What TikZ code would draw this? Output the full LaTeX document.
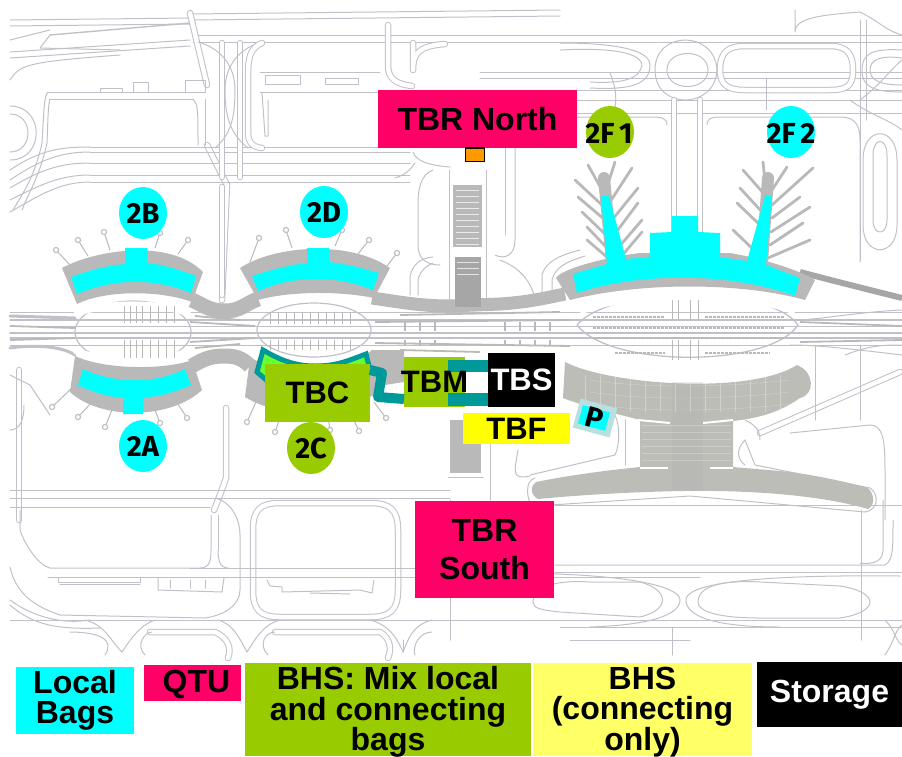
\documentclass[tikz,border=0pt]{standalone}
\usepackage{fontspec}
\setmainfont{Liberation Sans}
\newfontfamily\circfont{Fira Sans}[BoldFont={Fira Sans Bold}]
\definecolor{skl}{HTML}{C0C0C8}
\definecolor{bandg}{HTML}{B9B9B9}
\definecolor{bandd}{HTML}{A6A6A6}
\definecolor{fang}{HTML}{BDBDB8}
\definecolor{mycyan}{HTML}{00FFFF}
\definecolor{mylime}{HTML}{99CC00}
\definecolor{mypink}{HTML}{FF0066}
\definecolor{myyel}{HTML}{FFFF00}
\definecolor{mylyel}{HTML}{FFFF66}
\definecolor{myteal}{HTML}{009999}
\definecolor{mygreen}{HTML}{66FF33}
\definecolor{myorange}{HTML}{FF9900}
\definecolor{mypale}{HTML}{B8E0E0}
\tikzset{
  sk/.style={draw=skl,line width=1pt,line cap=round,line join=round},
  rd/.style={draw=skl,line width=1pt,double=white,double distance=4.5pt,line cap=round,line join=round},
  tick/.style={draw=bandg,line width=1pt},
  pier/.style={draw=bandg,line width=2.8pt,line cap=round},
  band/.style={draw=bandg,line width=15pt},
  box/.style={rectangle,inner sep=0pt,outer sep=0pt,align=center,text=black,font=\bfseries\fontsize{31}{38}\selectfont},
  bigbox/.style={box,font=\bfseries\fontsize{32}{38}\selectfont},
  legend/.style={box,font=\bfseries\fontsize{32}{30.5}\selectfont},
  circletext/.style={font=\circfont\bfseries\fontsize{29}{29}\selectfont},
  disc/.style={ellipse,inner sep=0pt,outer sep=0pt,minimum width=48pt,minimum height=52pt,text=black,circletext},
  belt/.style={draw=myteal,line width=12.5pt},
  cy/.style={fill=mycyan,draw=none},
}
\usetikzlibrary{shapes.geometric}
\begin{document}
\begin{tikzpicture}[x=1pt,y=-1pt]
\useasboundingbox (0,0) rectangle (902,756);
% ---- sketch: road network, top
\foreach \yy in {20,26}{\draw[sk] (10,\yy) -- (190,\yy-2);}
\draw[sk,line width=1.4pt] (50,35) -- (190,23);
\draw[sk] (10,52) -- (190,40); \draw[sk] (10,58) -- (190,46);
\draw[sk] (10,40) -- (50,30);
\draw[sk] (50,35) -- (40,48) -- (120,50);
\draw[sk] (10,80) .. controls (20,65) and (25,62) .. (120,55);
\foreach \yy in {35,42}{\draw[sk] (193,\yy) -- (902,\yy);}
\foreach \yy in {14,20}{\draw[sk] (190,\yy) -- (560,\yy-4);}
\draw[rd] (190,13) -- (207,85);
\draw[rd] (207,145) -- (227,185) -- (222,300);
\draw[sk] (48,92) -- (190,92) (50,99) -- (193,99);
\draw[sk] (100,88) rectangle (122,92);
\draw[sk] (133,82) rectangle (148,92);
\draw[sk] (185,80) rectangle (205,92);
\draw[sk] (48,92) .. controls (44,96) and (44,110) .. (42,143) .. controls (35,175) and (25,190) .. (13,210);
\draw[sk] (50,99) .. controls (48,105) and (48,120) .. (47,143) .. controls (40,175) and (30,190) .. (22,210);
\draw[sk] (10,106) .. controls (45,106) and (45,160) .. (10,160);
\draw[sk] (10,114) .. controls (34,114) and (34,152) .. (10,152);
\foreach \yy in {147,152,163,175,182}{\draw[sk] (90,\yy) -- (410,\yy);}
\draw[sk] (10,170) .. controls (40,150) and (60,147) .. (90,147);
\draw[sk] (10,180) .. controls (40,160) and (60,152) .. (90,152);
\draw[sk] (10,188) .. controls (40,170) and (60,163) .. (90,163);
\draw[sk] (10,200) .. controls (40,185) and (60,175) .. (90,175);
\draw[sk] (10,212) .. controls (40,195) and (60,182) .. (90,182);
\draw[rd] (222,43) -- (222,177);
\draw[rd] (240,43) -- (240,177);
\draw[sk] (198,42) .. controls (220,48) and (235,65) .. (235,90) .. controls (235,120) and (230,135) .. (215,148);
\draw[sk] (262,42) .. controls (240,48) and (225,65) .. (225,90) .. controls (225,120) and (232,135) .. (248,148);
\draw[rd] (262,43) .. controls (250,48) and (248,58) .. (248,75) -- (248,132) .. controls (248,142) and (252,147) .. (262,148);
\draw[sk] (193,99) .. controls (198,104) and (198,110) .. (198,145);
\draw[sk] (205,99) -- (205,145);
\draw[sk] (260,72) -- (380,72) (260,92) -- (380,92);
\draw[sk] (265,75) rectangle (300,84);
\draw[sk] (325,78) rectangle (358,84);
\draw[sk] (262,92) -- (265,136) -- (268,136) -- (268,100);
\draw[rd] (388,25) -- (388,65) .. controls (388,78) and (395,84) .. (412,86);
\draw[rd] (413,43) -- (413,70) .. controls (413,52) and (420,46) .. (445,44);
\foreach \yy in {72,78,90,100,113}{\draw[sk] (480,\yy) -- (902,\yy);}
\draw[sk] (415,163) .. controls (410,170) and (405,175) .. (395,178);
\draw[sk] (413,152) .. controls (416,160) and (425,165) .. (450,167);
% ovals top right
\draw[sk] (655,70) .. controls (655,30) and (715,30) .. (717,70) .. controls (715,110) and (655,110) .. (655,70);
\draw[sk] (667,70) .. controls (667,48) and (708,48) .. (708,70) .. controls (708,92) and (667,92) .. (667,70);
\draw[rd] (720,70) .. controls (720,52) and (728,46) .. (745,46) -- (830,46) .. controls (848,46) and (853,55) .. (853,70) .. controls (853,85) and (848,90) .. (830,90) -- (745,90) .. controls (728,90) and (720,85) .. (720,70);
\draw[sk] (560,43) .. controls (590,43) and (650,45) .. (650,65) .. controls (650,85) and (630,90) .. (590,88);
\draw[sk] (560,50) .. controls (600,48) and (640,50) .. (642,65) .. controls (640,78) and (625,84) .. (590,82);
\draw[sk] (902,50) .. controls (870,48) and (862,55) .. (862,70) .. controls (862,85) and (870,92) .. (902,92);
\draw[sk] (902,58) .. controls (880,55) and (870,60) .. (870,70) .. controls (870,80) and (880,85) .. (902,85);
\draw[sk] (795,10) -- (795,32) .. controls (795,18) and (820,15) .. (860,12);
\draw[sk] (860,12) .. controls (880,22) and (885,30) .. (902,35);
\draw[sk] (860,100) .. controls (880,85) and (890,70) .. (902,60);
\draw[sk] (860,20) -- (860,260);
\draw[sk] (866,20) -- (866,120);
\draw[sk] (850,100) .. controls (870,115) and (890,120) .. (902,130);
% verticals of 2F
\draw[rd] (674,100) -- (674,245);
\draw[rd] (700,100) -- (700,245);
\draw[sk] (707,125) .. controls (707,118) and (712,117) .. (720,117) -- (840,117) .. controls (855,117) and (860,125) .. (860,140) -- (860,262);
\draw[sk] (667,125) .. controls (667,118) and (662,117) .. (650,117) -- (490,117);
\draw[sk] (863,160) .. controls (863,125) and (897,125) .. (897,160) -- (897,225) .. controls (897,258) and (863,258) .. (863,225) -- cycle;
\draw[sk] (873,155) .. controls (873,137) and (887,137) .. (887,155) -- (887,220) .. controls (887,236) and (873,236) .. (873,220) -- cycle;
\draw[sk] (610,73) .. controls (615,85) and (617,95) .. (615,108);
\draw[sk] (766,78) -- (766,110);
% north strip surroundings
\draw[sk] (515,115) -- (515,240) .. controls (515,255) and (505,260) .. (495,255);
\draw[sk] (505,115) -- (505,235);
\draw[sk] (433,170) .. controls (420,175) and (418,190) .. (418,205) -- (418,245) .. controls (418,260) and (428,265) .. (440,265);
\draw[sk] (542,297) -- (542,275) .. controls (545,262) and (560,255) .. (580,250);
\draw[sk] (552,297) -- (552,280) .. controls (555,268) and (565,262) .. (585,256);
\draw[sk] (500,260) .. controls (520,268) and (530,280) .. (535,298);
\draw[sk] (410,295) -- (410,277) .. controls (412,265) and (420,258) .. (433,257);
\draw[sk] (418,295) -- (418,280) .. controls (420,270) and (428,265) .. (433,263);
\draw[sk] (449,170) -- (449,305) (486,170) -- (486,305);
% ---- central road
\foreach \yy/\w in {312/0.9,320/1.4,326/0.8,333/2,338/1.2,345/0.9}{\draw[sk,line width=\w pt] (10,\yy) -- (902,\yy);}
\draw[sk,line width=3pt] (10,348) .. controls (30,345) and (60,345) .. (75,355);
\draw[sk,line width=3pt] (10,316) -- (75,318);
\draw[sk] (902,355) .. controls (860,350) and (820,345) .. (790,345);
\draw[sk] (902,310) .. controls (860,312) and (830,318) .. (800,320);
\foreach \xa/\ya/\xb/\yb in {190/322/255/326,190/342/255/338,195/316/240/320,195/348/240/344,375/322/570/320,375/343/570/346,400/315/560/312,400/350/480/352,10/326/75/328,10/340/75/338,800/322/902/326,800/342/902/340}{\draw[draw=bandg,line width=1.8pt] (\xa,\ya) -- (\xb,\yb);}
\foreach \xx in {405,420,435,505,520,535,550}{\draw[draw=bandg,line width=2.5pt] (\xx,322) -- (\xx,331) (\xx,340) -- (\xx,346);}
% left verticals
\draw[rd] (19,370) -- (19,520);
\draw[rd] (226,408) -- (226,478) .. controls (222,490) and (218,500) .. (214,510);
\draw[rd] (222,187) -- (222,295);
% ---- sketch: south
\foreach \yy in {490,498}{\draw[sk] (10,\yy) -- (450,\yy);}
\draw[sk] (555,505) -- (902,505);
\draw[sk] (10,507) -- (210,507);
\draw[sk] (20,510) -- (20,530) .. controls (25,545) and (38,565) .. (50,568) -- (200,568) .. controls (210,568) and (211,560) .. (211,550) -- (211,515);
\draw[sk] (218,550) .. controls (218,560) and (220,568) .. (228,568);
\draw[sk] (218,515) -- (218,550);
\draw[sk] (215,498) .. controls (232,502) and (240,520) .. (240,535) -- (240,590) .. controls (240,605) and (225,615) .. (205,618) -- (60,615) .. controls (30,605) and (15,590) .. (10,567);
\draw[sk] (10,600) .. controls (30,615) and (60,625) .. (90,620);
\draw[sk] (10,605) .. controls (30,622) and (50,630) .. (100,628);
\draw[rd] (253,530) .. controls (253,510) and (260,503) .. (280,503) -- (370,503) .. controls (390,503) and (398,510) .. (398,530) -- (398,590) .. controls (398,610) and (390,617) .. (370,617) -- (280,617) .. controls (260,617) and (253,610) .. (253,590) -- cycle;
\draw[sk] (48,577) -- (700,577) (190,568) -- (430,568);
\draw[sk] (60,584) -- (140,584);
\draw[sk] (58,578) -- (58,582) -- (140,582) -- (140,577);
\draw[sk] (158,578) -- (158,590) -- (222,592) -- (224,578);
\draw[sk] (170,580) -- (170,588) (190,580) -- (190,588) (205,580) -- (205,588);
\draw[sk] (267,580) -- (270,586) -- (282,587) -- (282,592) -- (360,590) -- (372,593) -- (374,580);
\draw[sk] (310,593) -- (350,594);
\draw[sk] (10,620) -- (902,620);
\draw[sk] (85,620) .. controls (105,625) and (110,640) .. (122,652);
\draw[sk] (155,620) .. controls (140,625) and (130,640) .. (122,652);
\draw[sk] (218,620) .. controls (235,625) and (240,640) .. (247,652);
\draw[sk] (280,620) .. controls (262,625) and (255,640) .. (247,652);
\draw[sk] (370,620) .. controls (390,625) and (398,640) .. (403,652);
\draw[sk] (432,620) .. controls (412,625) and (408,640) .. (403,652);
\draw[rd] (150,632) -- (215,632) .. controls (228,638) and (232,648) .. (228,658);
\draw[sk] (145,655) .. controls (135,645) and (145,632) .. (152,632);
\draw[rd] (275,632) -- (380,632) .. controls (390,638) and (392,648) .. (388,658);
\draw[sk] (268,655) .. controls (258,645) and (265,632) .. (275,632);
\draw[sk] (70,632) .. controls (100,632) and (115,640) .. (105,655);
\draw[sk] (415,655) .. controls (412,645) and (420,632) .. (432,632);
% far south ovals
\draw[sk] (555,565) -- (885,565) .. controls (893,560) and (893,550) .. (893,520);
\draw[sk] (555,572) -- (902,572);
\draw[sk] (883,500) -- (883,550) .. controls (883,560) and (875,565) .. (860,563);
\draw[sk] (790,433) -- (870,425) .. controls (883,425) and (885,440) .. (885,470) -- (885,520);
\draw[sk] (533,602) .. controls (533,585) and (560,580) .. (590,582) -- (640,582) .. controls (670,590) and (670,610) .. (640,617) -- (560,612) .. controls (540,610) and (533,608) .. (533,602);
\draw[sk] (698,602) .. controls (698,585) and (725,580) .. (760,582) -- (840,586) .. controls (880,592) and (880,612) .. (840,618) -- (760,618) .. controls (720,618) and (698,612) .. (698,602);
\draw[sk] (510,573) .. controls (650,574) and (680,590) .. (680,600) .. controls (680,615) and (650,625) .. (590,627);
\draw[sk] (900,576) .. controls (710,574) and (686,590) .. (686,600) .. controls (686,615) and (710,627) .. (780,627);
\draw[sk] (560,627) -- (902,627);
\draw[sk] (450,500) -- (450,640);
\draw[sk] (672,627) -- (672,655) (570,640) -- (690,640);
\draw[sk] (403,640) -- (403,652);
\draw[sk] (861,510) -- (861,640);
\draw[sk] (885,620) .. controls (895,630) and (895,640) .. (902,645);
\draw[sk] (885,655) .. controls (895,640) and (895,630) .. (902,625);
% south roads around fan
\draw[rd] (760,433) -- (900,372);
\draw[sk] (845,355) .. controls (870,345) and (885,345) .. (902,345);
\draw[sk] (815,345) -- (815,420) (860,345) -- (860,420);
\draw[sk] (490,440) -- (490,500);
\draw[sk] (518,450) .. controls (515,470) and (510,480) .. (530,476);
\draw[sk] (530,475) -- (615,455) .. controls (620,445) and (620,425) .. (615,415);
\draw[sk] (625,465) -- (625,420);
\draw[sk] (745,440) -- (755,465) -- (870,488) .. controls (880,495) and (878,510) .. (865,512);
\draw[sk] (535,510) .. controls (525,500) and (525,480) .. (535,478);
\draw[sk] (535,506) -- (690,496) -- (865,512);
\draw[sk] (745,420) .. controls (755,425) and (760,430) .. (760,440);
\draw[sk] (745,440) .. controls (735,450) and (738,460) .. (745,465);
\draw[sk] (10,430) .. controls (20,430) and (24,420) .. (24,405);
\draw[sk] (50,415) -- (30,385) (30,385) -- (10,375);
% ---- terminal bands
\fill[bandg] (62,268) .. controls (95,250) and (170,238) .. (203,272) -- (192,302) .. controls (160,290) and (105,290) .. (77,304) -- cycle;
\fill[bandg] (240,268) .. controls (275,245) and (350,240) .. (390,268) -- (374,298) .. controls (340,291) and (290,291) .. (258,300) -- cycle;
\fill[bandg] (75,356) .. controls (105,370) and (165,370) .. (192,360) -- (202,390) .. controls (170,420) and (100,420) .. (70,392) -- cycle;
\fill[bandg] (250,358) .. controls (290,375) and (340,375) .. (372,350) -- (404,350) -- (404,382) -- (385,385) .. controls (365,410) and (290,425) .. (245,397) -- cycle;
\draw[band] (192,300) .. controls (205,306) and (210,311) .. (225,311) .. controls (240,311) and (245,304) .. (258,299);
\draw[band] (192,366) .. controls (205,358) and (212,356) .. (225,356) .. controls (235,356) and (242,358) .. (250,366);
\draw[draw=bandg,line width=13pt] (372,298) .. controls (400,302) and (420,306) .. (450,306) -- (500,304) .. controls (530,302) and (545,298) .. (565,294);
\draw[draw=bandd,line width=6pt] (800,272) .. controls (830,280) and (870,290) .. (902,298);
\fill[bandg] (556,278) .. controls (560,270) and (600,258) .. (640,253) -- (730,253) .. controls (760,258) and (800,270) .. (815,280) -- (805,300) .. controls (740,282) and (640,282) .. (570,300) -- cycle;
% ---- piers around west terminals
\foreach \hx/\hy/\bx/\by in {56/250/70/265,78/240/88/256,104/232/110/250,160/233/155/248,188/240/178/254,259/238/250/262,286/230/292/248,342/230/335/246,369/240/358/254,397/253/384/270,52/407/72/388,78/417/92/402,105/427/112/410,160/423/155/410,187/418/178/404,247/422/256/402,275/432/282/412,330/430/328/415,359/431/350/412,386/418/374/402}{
  \draw[tick] (\hx,\hy) -- (\bx,\by);
  \draw[sk,fill=white,line width=1.2pt] (\hx,\hy) circle (2.6pt);
}
% ---- 2F concourses
\draw[draw=bandg,line width=12pt,line cap=round] (604,178) -- (612,262);
\draw[draw=bandg,line width=12pt,line cap=round] (768,178) -- (762,262);
\foreach \hx/\hy/\bx/\by in {588/165/602/190,575/180/602/205,578/197/605/220,582/212/606/235,587/227/607/248,587/240/608/258,615/162/606/190,632/168/608/205,638/188/612/220,638/203/614/235,642/220/618/248,642/232/620/258,743/170/765/195,740/188/762/212,737/203/760/225,733/230/756/252,763/162/766/190,787/167/772/190,813/168/772/205,800/197/772/218,810/207/771/232,803/223/770/245,810/240/768/258}{
  \draw[pier] (\hx,\hy) -- (\bx,\by);
}
% ---- ovals and car parks
\draw[sk,line width=1.2pt] (133,332) ellipse (58pt and 31pt);
\draw[sk,line width=1.2pt] (314,330) ellipse (57pt and 27pt);
\draw[draw=white,line width=7pt] (75,314) .. controls (100,302) and (165,302) .. (190,314);
\draw[draw=white,line width=7pt] (75,350) .. controls (100,364) and (165,364) .. (190,350);
\foreach \xx in {124,130,136,142,150,158,166,174}{\draw[tick,line width=.8pt] (\xx,306) -- (\xx,323) (\xx,340) -- (\xx,358);}
\foreach \xx in {270,278,286,294,302,310,318,326,334,342,350}{\draw[tick,line width=.8pt] (\xx,312) -- (\xx,324) (\xx,340) -- (\xx,350);}
\draw[sk,line width=1.3pt] (577,325) .. controls (610,285) and (770,285) .. (798,325) .. controls (770,368) and (610,368) .. (577,325);
\draw[draw=white,line width=6pt] (580,312) .. controls (620,292) and (750,292) .. (795,312);
\draw[draw=white,line width=8pt] (570,358) .. controls (610,376) and (760,380) .. (810,358);
\foreach \yy/\xa/\xb in {317/593/665,328/593/785,338/593/785,353/615/665,317/705/785,353/705/770}{\draw[tick,line width=1.6pt,dash pattern=on 3pt off 1pt] (\xa,\yy) -- (\xb,\yy);}
\foreach \xx in {672,678,690,698}{\draw[tick] (\xx,300) -- (\xx,320) (\xx,340) -- (\xx,360);}
% ---- strips
\fill[bandg] (453,185) rectangle (482,247);
\foreach \yy in {190,196,...,244}{\draw[draw=white,line width=.4pt,opacity=.7] (456,\yy) -- (479,\yy);}
\fill[bandd] (455,257) rectangle (481,307);
\foreach \yy in {262,268,274}{\draw[draw=white,line width=.4pt,opacity=.7] (457,\yy) -- (479,\yy);}
\fill[bandg] (450,420) rectangle (481,473);
\draw[sk] (448,477) -- (483,477);
% ---- south fan
\fill[fang] (565,362) .. controls (610,385) and (750,395) .. (797,365) .. controls (815,372) and (815,395) .. (800,398) .. controls (780,412) and (760,418) .. (733,421) -- (733,467) -- (768,470) .. controls (800,472) and (840,480) .. (868,488) .. controls (875,495) and (875,505) .. (868,509) .. controls (820,495) and (750,490) .. (683,491) .. controls (630,492) and (580,495) .. (538,499) .. controls (530,495) and (530,485) .. (536,482) .. controls (570,475) and (610,470) .. (640,467) -- (640,420) .. controls (610,412) and (580,405) .. (563,398) -- cycle;
\fill[bandd,opacity=.2] (672,382) rectangle (703,490);
\foreach \xx in {585,600,...,790}{\draw[draw=white,line width=.5pt,opacity=.3] (\xx,375) -- (\xx,412);}
\foreach \yy in {425,432,...,465}{\draw[draw=white,line width=.5pt,opacity=.25] (642,\yy) -- (731,\yy);}
\foreach \yy in {380,392,404}{\draw[draw=white,line width=.4pt,opacity=.3] (590,\yy) .. controls (640,\yy+8) and (720,\yy+8) .. (790,\yy);}
\draw[draw=white,line width=2pt] (638,420) -- (670,423) (703,423) -- (733,420);
\draw[draw=white,line width=1.5pt] (640,468) -- (668,468) (710,468) -- (733,468);
% ---- cyan halls
\fill[cy] (71,277) .. controls (90,270) and (105,266) .. (125,264) -- (125,248) -- (147,248) -- (147,263) .. controls (165,265) and (180,270) .. (196,276) -- (191,293) .. controls (155,278) and (115,278) .. (77,294) -- cycle;
\fill[cy] (252,276) .. controls (270,270) and (290,265) .. (307,263) -- (307,248) -- (329,248) -- (329,262) .. controls (345,264) and (362,268) .. (379,273) -- (373,290) .. controls (335,275) and (295,275) .. (258,291) -- cycle;
\fill[cy] (83,369) .. controls (115,384) and (155,384) .. (185,369) -- (191,385) .. controls (175,392) and (160,396) .. (143,398) -- (143,414) -- (123,414) -- (123,398) .. controls (105,396) and (92,392) .. (78,385) -- cycle;
\fill[cy] (573,274) -- (607,264) -- (601,196) -- (609,196) -- (626,259) -- (650,257) -- (650,233) -- (672,232) -- (672,216) -- (698,216) -- (698,232) -- (720,233) -- (720,257) -- (747,261) -- (765,196) -- (772,196) -- (766,265) -- (800,278) -- (795,296) .. controls (730,272) and (640,272) .. (577,293) -- cycle;
% ---- belts
\filldraw[fill=mygreen,draw=myteal,line width=5pt,line join=miter] (263,350) -- (257,372) -- (272,385) -- (360,380) -- (369,366) -- (366,354) .. controls (345,362) and (335,366) .. (315,366) .. controls (295,366) and (280,360) .. (263,350) -- cycle;
% ---- boxes
\node[box,fill=mylime,minimum width=105pt,minimum height=58pt] (tbc) at (317.5,393) {TBC};
\node[box,fill=mylime,minimum width=61pt,minimum height=50pt] (tbm) at (434.5,382) {};
\node[box,fill=black,text=white,minimum width=67pt,minimum height=54pt] (tbs) at (521.5,380) {TBS};
\draw[belt] ([yshift=14pt]tbs.west) -- ++(-40,0);
\draw[belt] ([yshift=-19.5pt]tbs.west) -- ++(-40,0);
\draw[draw=myteal,line width=10pt,line join=round] ([yshift=23pt]tbc.east) -- (382,373) -- (378,397) -- ([yshift=-17pt]tbm.west);
\node[box] (tbmlabel) at (tbm) {TBM};
\node[box,fill=myyel,minimum width=107pt,minimum height=31pt] (tbf) at (516.5,428.5) {TBF};
\node[rectangle,rotate=-15,fill=mypale,minimum width=38pt,minimum height=30pt,inner sep=0pt] (pbox) at (595,418) {};
\node[rectangle,rotate=-15,fill=mycyan,minimum width=28pt,minimum height=19pt,inner sep=0pt] (pin) at (594,418) {};
\node[rotate=-15,inner sep=0pt,circletext] (plabel) at (594.5,418) {P};
\node[bigbox,fill=mypink,minimum width=199pt,minimum height=58pt] (tbrn) at (477.5,119) {TBR North};
\draw[fill=myorange,draw=black,line width=1.4pt] (465.5,148) rectangle (484.5,161.5);
\node[bigbox,fill=mypink,minimum width=139pt,minimum height=97pt] (tbrs) at (484.5,549.5) {TBR\\South};
\node[disc,fill=mycyan] (d2b) at (143,213) {2B};
\node[disc,fill=mycyan] (d2d) at (324,212) {2D};
\node[disc,fill=mycyan] (d2a) at (143,446) {2A};
\node[disc,fill=mylime] (d2c) at (311,448) {2C};
\node[disc,fill=mylime] (d2f1) at (610,132) {};
\node[disc,fill=mycyan] (d2f2) at (791,132) {};
\node[inner sep=0pt,circletext] (t2f1) at (609,133) {2F\,1};
\node[inner sep=0pt,circletext] (t2f2) at (791,133) {2F\,2};
% ---- legend
\node[legend,fill=mycyan,minimum width=118pt,minimum height=67pt] (l1) at (75,700.5) {Local\\Bags};
\node[legend,fill=mypink,minimum width=97pt,minimum height=36pt] (l2) at (192.5,683) {};
\node[legend] (l2t) at (196.5,684) {QTU};
\node[legend,fill=mylime,minimum width=286pt,minimum height=93pt] (l3) at (388,709.5) {};
\node[legend] (l3t) at (388,712) {BHS: Mix local\\and connecting\\bags};
\node[legend,fill=mylyel,minimum width=219pt,minimum height=93pt] (l4) at (642.5,709.5) {};
\node[legend] (l4t) at (642.5,712) {BHS\\(connecting\\only)};
\node[legend,fill=black,text=white,minimum width=145pt,minimum height=65pt] (l5) at (829.5,694.5) {\raisebox{-3pt}{Storage}};
\end{tikzpicture}
\end{document}
